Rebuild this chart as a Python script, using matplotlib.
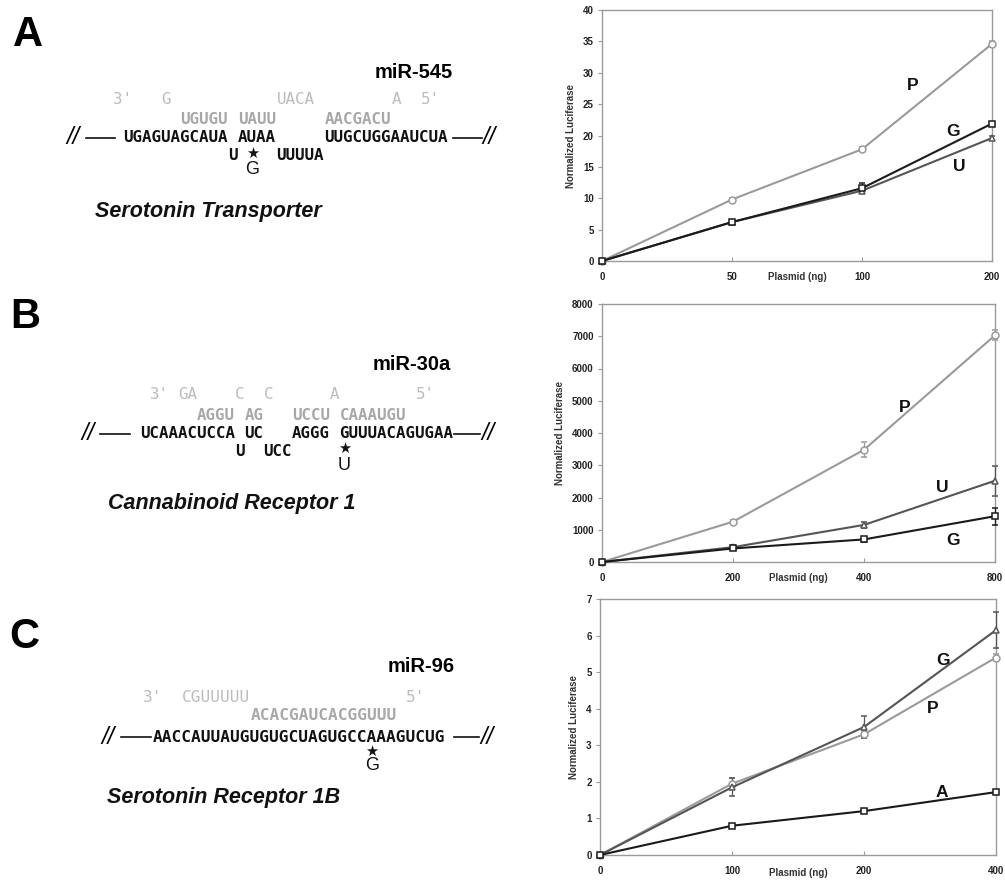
import re
import matplotlib
matplotlib.use("Agg")
import matplotlib.pyplot as plt
from matplotlib.lines import Line2D

W, H = 1005, 884
fig = plt.figure(figsize=(W / 100, H / 100), dpi=100)
fig.patch.set_facecolor("white")

def fx(x):
    return x / W

def fy(y):
    return 1 - y / H

SANS = "Liberation Sans"
MONO = "DejaVu Sans Mono"
GRAY_SEQ = "#a8a8a8"

# ---------------- Data: sequences ----------------
A_mir = "miR-545"
A_gray1 = "3'   G           UACA        A  5'"
A_gray2 = "       UGUGU UAUU     AACGACU"
A_black = " UGAGUAGCAUA AUAA     UUGCUGGAAUCUA"
A_bottom = "            U    UUUUA"
A_star_idx = 14
A_mut = "G"
A_gene = "Serotonin Transporter"

B_mir = "miR-30a"
B_gray1 = " 3' GA    C  C      A        5'"
B_gray2 = "      AGGU AG   UCCU CAAAUGU"
B_black = "UCAAACUCCA UC   AGGG GUUUACAGUGAA"
B_bottom = "          U  UCC"
B_star_idx = 21
B_mut = "U"
B_gene = "Cannabinoid Receptor 1"

C_mir = "miR-96"
C_gray1 = "3'  CGUUUUU                5'"
C_gray2 = "           ACACGAUCACGGUUU"
C_black = " AACCAUUAUGUGUGCUAGUGCCAAAGUCUG"
C_bottom = ""
C_star_idx = 23
C_mut = "G"
C_gene = "Serotonin Receptor 1B"

# ---------------- Data: luciferase curves ----------------
A_xticks = ["0", "50", "100", "200"]
A_P = [0, 9.8, 17.8, 34.6]
A_P_err = [0, 0.3, 0.3, 0.4]
A_G = [0, 6.2, 11.6, 21.9]
A_G_err = [0, 0.2, 0.8, 0.3]
A_U = [0, 6.2, 11.2, 19.6]
A_U_err = [0, 0.2, 0.3, 0.3]

B_xticks = ["0", "200", "400", "800"]
B_P = [0, 1250, 3480, 7030]
B_P_err = [0, 60, 230, 160]
B_U = [0, 460, 1150, 2520]
B_U_err = [0, 60, 100, 470]
B_G = [0, 420, 700, 1420]
B_G_err = [0, 50, 80, 260]

C_xticks = ["0", "100", "200", "400"]
C_G = [0, 1.85, 3.5, 6.15]
C_G_err = [0, 0.25, 0.3, 0.5]
C_P = [0, 1.95, 3.3, 5.4]
C_P_err = [0, 0.15, 0.1, 0.1]
C_A = [0, 0.8, 1.2, 1.72]
C_A_err = [0, 0.05, 0.05, 0.05]


def draw_row(s, x0, cw, y, color, weight, fs):
    for m in re.finditer(r"\S+", s):
        fig.text(fx(x0 + m.start() * cw), fy(y), m.group(), fontfamily=MONO,
                 fontsize=fs, color=color, fontweight=weight, ha="left", va="center")


def seq_panel(letter, lpos, mir, mpos, g1, g2, blk, bot, star_idx, mut, gene, gpos,
              x0, cw, ys, slash_l, slash_r, star_off):
    fig.text(fx(lpos[0]), fy(lpos[1]), letter, fontfamily=SANS, fontweight="bold",
             fontsize=30, ha="center", va="center")
    fig.text(fx(mpos[0]), fy(mpos[1]), mir, fontfamily=SANS, fontweight="bold",
             fontsize=14.5, ha="left", va="center")
    fs = cw / (0.602 * 100 / 72)
    draw_row(g1, x0, cw, ys[0], "#bcbcbc", "normal", fs)
    draw_row(g2, x0, cw, ys[1], GRAY_SEQ, "bold", fs)
    draw_row(blk, x0, cw, ys[2], "#111111", "bold", fs)
    if bot:
        draw_row(bot, x0, cw, ys[3], "#111111", "bold", fs)
    sx = x0 + (star_idx + 0.5) * cw
    fig.text(fx(sx), fy(ys[2] + star_off[0]), "★", fontfamily="DejaVu Sans",
             fontsize=10.5, ha="center", va="center", color="#111111")
    fig.text(fx(sx), fy(ys[2] + star_off[1]), mut, fontfamily=SANS, fontsize=13,
             ha="center", va="center", color="#111111")
    # break marks and connecting lines
    yb = ys[2]
    fig.text(fx(slash_l[0]), fy(yb), "//", fontfamily=SANS, fontsize=17,
             ha="left", va="center", style="italic")
    fig.add_artist(Line2D([fx(slash_l[1]), fx(slash_l[2])], [fy(yb), fy(yb)],
                          color="#111111", lw=1.2))
    fig.add_artist(Line2D([fx(slash_r[0]), fx(slash_r[1])], [fy(yb), fy(yb)],
                          color="#111111", lw=1.2))
    fig.text(fx(slash_r[2]), fy(yb), "//", fontfamily=SANS, fontsize=17,
             ha="left", va="center", style="italic")
    fig.text(fx(gpos[0]), fy(gpos[1]), gene, fontfamily=SANS, fontweight="bold",
             style="italic", fontsize=15.5, ha="left", va="center", color="#111111")


seq_panel("A", (28, 35), A_mir, (375, 73), A_gray1, A_gray2, A_black, A_bottom,
          A_star_idx, A_mut, A_gene, (95, 212), 113.4, 9.6, (100, 119, 138, 156),
          (66, 86, 115), (453, 482, 482), (15, 32))
seq_panel("B", (25, 317), B_mir, (373, 365), B_gray1, B_gray2, B_black, B_bottom,
          B_star_idx, B_mut, B_gene, (108, 504), 140, 9.5, (395, 415, 434, 452),
          (81, 100, 130), (454, 480, 481), (14, 31))
seq_panel("C", (24, 637), C_mir, (388, 666), C_gray1, C_gray2, C_black, C_bottom,
          C_star_idx, C_mut, C_gene, (107, 797), 143.3, 9.73, (697, 716, 737, 755),
          (101, 121, 151), (454, 479, 480), (14, 29))


def lum_axes(rect, xt, ymax, ystep, series, labels, xl_pad):
    ax = fig.add_axes(rect)
    xs = list(range(len(xt)))
    for vals, err, col, mk, mfc in series:
        ax.errorbar(xs, vals, yerr=err, color=col, lw=1.5, marker=mk, ms=5,
                    mfc=mfc, mec=col, mew=1.1, capsize=2.5, elinewidth=0.9,
                    clip_on=False, zorder=3)
    for txt, x, y in labels:
        ax.text(x, y, txt, fontfamily=SANS, fontweight="bold", fontsize=12.5,
                ha="center", va="center", color="#111111")
    ax.set_xlim(0, len(xt) - 1)
    ax.set_ylim(0, ymax)
    ax.set_xticks(xs)
    ax.set_xticklabels(xt)
    yt = [i * ystep for i in range(int(round(ymax / ystep)) + 1)]
    ax.set_yticks(yt)
    ax.set_yticklabels([("%g" % v) for v in yt])
    for sp in ax.spines.values():
        sp.set_color("#9a9a9a")
        sp.set_linewidth(1.0)
    ax.tick_params(axis="y", length=3, width=0.8, color="#9a9a9a",
                   labelsize=7, labelcolor="#222222", pad=3)
    ax.tick_params(axis="x", direction="in", length=3, width=0.8, color="#9a9a9a",
                   labelsize=7, labelcolor="#222222", pad=8)
    for lab in ax.get_xticklabels() + ax.get_yticklabels():
        lab.set_fontfamily(SANS)
        lab.set_fontweight("bold")
    ax.set_xlabel("Plasmid (ng)", fontfamily=SANS, fontweight="bold", fontsize=7,
                  color="#333333", labelpad=xl_pad)
    ax.set_ylabel("Normalized Luciferase", fontfamily=SANS, fontweight="bold",
                  fontsize=7, color="#333333", labelpad=5)
    return ax


LG = "#9a9a9a"
DG = "#555555"
BK = "#1a1a1a"

lum_axes([602 / W, (H - 261) / H, 390 / W, 251 / H], A_xticks, 40, 5,
         [(A_P, A_P_err, LG, "o", "white"),
          (A_U, A_U_err, DG, "^", "white"),
          (A_G, A_G_err, BK, "s", "white")],
         [("P", 2.39, 28.0), ("G", 2.70, 20.6), ("U", 2.75, 15.1)], -7)

lum_axes([602 / W, (H - 562) / H, 393 / W, 258 / H], B_xticks, 8000, 1000,
         [(B_P, B_P_err, LG, "o", "white"),
          (B_U, B_U_err, DG, "^", "white"),
          (B_G, B_G_err, BK, "s", "white")],
         [("P", 2.31, 4800), ("U", 2.60, 2300), ("G", 2.68, 680)], -7)

lum_axes([600 / W, (H - 855) / H, 396 / W, 256 / H], C_xticks, 7, 1,
         [(C_P, C_P_err, LG, "o", "white"),
          (C_G, C_G_err, DG, "^", "white"),
          (C_A, C_A_err, BK, "s", "white")],
         [("G", 2.60, 5.33), ("P", 2.52, 4.0), ("A", 2.59, 1.72)], -6)

fig.savefig("out.png", dpi=100, facecolor="white")
